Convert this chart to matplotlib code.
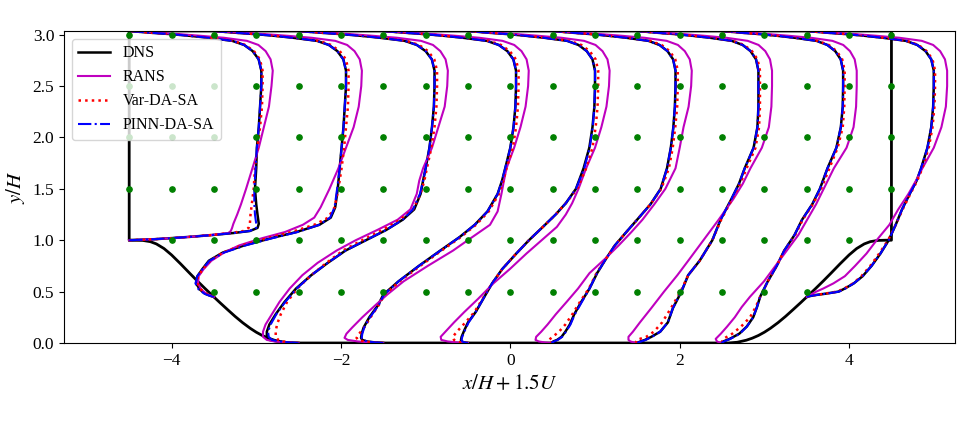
import numpy as np
import matplotlib
matplotlib.use('Agg')
import matplotlib.pyplot as plt

plt.rcParams['font.family'] = ['Liberation Serif', 'DejaVu Serif']
plt.rcParams['mathtext.fontset'] = 'stix'

# Geometria de la colina (distancia desde la cresta, altura), en unidades de H
hill_s = [0.0, 0.071, 0.161, 0.25, 0.321, 0.411, 0.5, 0.607, 0.714, 0.804, 0.893, 1.0,
          1.071, 1.161, 1.25, 1.339, 1.429, 1.5, 1.571, 1.643, 1.714, 1.821, 1.929]
hill_h = [1.0, 1.0, 0.998, 0.986, 0.964, 0.919, 0.857, 0.770, 0.679, 0.604, 0.532, 0.448,
          0.393, 0.325, 0.259, 0.198, 0.143, 0.105, 0.073, 0.047, 0.027, 0.007, 0.0]
H_top = 3.036
x_half = 4.5

# Estaciones x/H donde se toman los perfiles
stations = [0, 1, 2, 3, 4, 5, 6, 7, 8]

# Puntos de observacion
obs_x = [-4.5, -4.0, -3.5, -3.0, -2.5, -2.0, -1.5, -1.0, -0.5, 0.0,
         0.5, 1.0, 1.5, 2.0, 2.5, 3.0, 3.5, 4.0, 4.5]
obs_y = [0.5, 1.0, 1.5, 2.0, 2.5, 3.0]

# alturas comunes de la parte alta de todos los perfiles
y_top = [1.7, 1.9, 2.1, 2.3, 2.5, 2.65, 2.76, 2.84, 2.9, 2.94, 2.97, 2.99, 3.005, 3.02, 3.036]

# ---- perfiles de velocidad U (parte baja de y propia + y_top) ----
# x/H = 0
y_0 = [1.0, 1.005, 1.01, 1.02, 1.035, 1.05, 1.07, 1.09, 1.12, 1.16, 1.25, 1.35, 1.5]
dns_0 = [0, 0.1, 0.2, 0.33, 0.5, 0.65, 0.82, 0.95, 1.01, 1.02, 1.01, 1.0, 0.99,
         1.0, 1.005, 1.02, 1.03, 1.04, 1.04, 1.019, 0.972, 0.905, 0.811, 0.624, 0.468, 0.333, 0.156, 0]
rans_0 = [0, 0.1, 0.2, 0.33, 0.5, 0.64, 0.78, 0.8, 0.81, 0.82, 0.85, 0.88, 0.92,
          0.97, 1.02, 1.06, 1.1, 1.12, 1.13, 1.113, 1.074, 1.017, 0.927, 0.746, 0.554, 0.396, 0.186, 0]
var_0 = [0, 0.1, 0.2, 0.33, 0.5, 0.64, 0.8, 0.9, 0.94, 0.95, 0.955, 0.965, 0.98,
         0.99, 1.01, 1.03, 1.045, 1.05, 1.05, 1.029, 0.982, 0.914, 0.819, 0.63, 0.473, 0.336, 0.158, 0]
pinn_0 = [0, 0.1, 0.2, 0.33, 0.5, 0.65, 0.82, 0.95, 1.0, 1.0, 0.99, 0.985, 0.985,
          0.995, 1.005, 1.02, 1.03, 1.04, 1.04, 1.019, 0.972, 0.905, 0.811, 0.624, 0.468, 0.333, 0.156, 0]

# x/H = 1
y_1 = [0.448, 0.46, 0.48, 0.52, 0.58, 0.65, 0.72, 0.8, 0.88, 0.95, 1.02, 1.08, 1.15, 1.22, 1.32, 1.5]
dns_1 = [0, -0.03, -0.07, -0.11, -0.14, -0.13, -0.09, -0.04, 0.07, 0.24, 0.45, 0.65, 0.83, 0.92, 0.955, 0.975,
         0.99, 1.005, 1.02, 1.03, 1.04, 1.04, 1.019, 0.972, 0.905, 0.811, 0.624, 0.468, 0.333, 0.156, 0]
rans_1 = [0, -0.02, -0.06, -0.1, -0.125, -0.12, -0.08, -0.02, 0.08, 0.2, 0.38, 0.56, 0.7, 0.79, 0.84, 0.91,
          0.98, 1.04, 1.1, 1.14, 1.16, 1.165, 1.148, 1.107, 1.049, 0.955, 0.769, 0.571, 0.408, 0.192, 0]
var_1 = [0, -0.02, -0.06, -0.1, -0.13, -0.125, -0.085, -0.03, 0.07, 0.22, 0.42, 0.61, 0.79, 0.9, 0.95, 0.98,
         1.005, 1.025, 1.04, 1.055, 1.06, 1.06, 1.039, 0.991, 0.922, 0.827, 0.636, 0.477, 0.339, 0.159, 0]
pinn_1 = [0, -0.035, -0.075, -0.12, -0.145, -0.13, -0.09, -0.035, 0.08, 0.25, 0.46, 0.66, 0.83, 0.915, 0.95, 0.97,
          0.99, 1.005, 1.02, 1.03, 1.04, 1.04, 1.019, 0.972, 0.905, 0.811, 0.624, 0.468, 0.333, 0.156, 0]

# x/H = 2
y_2 = [0.0, 0.005, 0.015, 0.03, 0.06, 0.11, 0.18, 0.28, 0.4, 0.53, 0.66, 0.78, 0.9, 1.0, 1.1, 1.2,
       1.3, 1.45, 1.58]
dns_2 = [0, -0.08, -0.17, -0.23, -0.25, -0.25, -0.23, -0.18, -0.11, -0.02, 0.1, 0.23, 0.37, 0.53, 0.69, 0.82,
         0.91, 0.96, 0.98,
         1.0, 1.03, 1.05, 1.065, 1.07, 1.07, 1.049, 1.0, 0.931, 0.835, 0.642, 0.482, 0.342, 0.161, 0]
rans_2 = [0, -0.1, -0.19, -0.25, -0.28, -0.28, -0.26, -0.21, -0.15, -0.07, 0.03, 0.15, 0.3, 0.45, 0.62, 0.78,
          0.88, 0.93, 0.95,
          0.98, 1.05, 1.1, 1.15, 1.17, 1.175, 1.157, 1.116, 1.058, 0.964, 0.776, 0.576, 0.411, 0.194, 0]
var_2 = [0, -0.06, -0.12, -0.16, -0.18, -0.18, -0.17, -0.14, -0.09, -0.01, 0.1, 0.22, 0.35, 0.5, 0.66, 0.8,
         0.9, 0.96, 0.99,
         1.01, 1.045, 1.07, 1.085, 1.09, 1.09, 1.068, 1.019, 0.948, 0.85, 0.654, 0.491, 0.349, 0.164, 0]
pinn_2 = [0, -0.07, -0.15, -0.21, -0.235, -0.24, -0.22, -0.175, -0.105, -0.015, 0.1, 0.23, 0.37, 0.53, 0.69,
          0.82, 0.9, 0.955, 0.98,
          1.0, 1.03, 1.05, 1.065, 1.07, 1.07, 1.049, 1.0, 0.931, 0.835, 0.642, 0.482, 0.342, 0.161, 0]

# x/H = 3
y_3 = [0.0, 0.005, 0.015, 0.03, 0.05, 0.09, 0.15, 0.25, 0.37, 0.47, 0.6, 0.75, 0.9, 1.03, 1.15, 1.28,
       1.45, 1.58]
dns_3 = [0, -0.06, -0.13, -0.165, -0.175, -0.17, -0.155, -0.11, -0.04, 0.0, 0.12, 0.28, 0.45, 0.6, 0.72, 0.82,
         0.9, 0.935,
         0.96, 1.0, 1.025, 1.04, 1.045, 1.045, 1.024, 0.977, 0.909, 0.815, 0.627, 0.47, 0.334, 0.157, 0]
rans_3 = [0, -0.1, -0.2, -0.28, -0.305, -0.29, -0.245, -0.165, -0.06, 0.03, 0.16, 0.35, 0.55, 0.7, 0.84, 0.9,
          0.93, 0.95,
          0.97, 1.03, 1.08, 1.12, 1.14, 1.145, 1.128, 1.088, 1.031, 0.939, 0.756, 0.561, 0.401, 0.189, 0]
var_3 = [0, -0.08, -0.15, -0.2, -0.21, -0.19, -0.15, -0.1, -0.035, 0.01, 0.13, 0.29, 0.46, 0.61, 0.73, 0.83,
         0.91, 0.945,
         0.97, 1.02, 1.045, 1.06, 1.065, 1.065, 1.044, 0.996, 0.927, 0.831, 0.639, 0.479, 0.341, 0.16, 0]
pinn_3 = [0, -0.06, -0.125, -0.16, -0.17, -0.165, -0.15, -0.105, -0.035, 0.005, 0.12, 0.28, 0.45, 0.6, 0.72,
          0.82, 0.9, 0.935,
          0.96, 1.0, 1.025, 1.04, 1.045, 1.045, 1.024, 0.977, 0.909, 0.815, 0.627, 0.47, 0.334, 0.157, 0]

# x/H = 4
y_4 = [0.0, 0.005, 0.015, 0.03, 0.06, 0.12, 0.2, 0.3, 0.43, 0.58, 0.72, 0.87, 1.0, 1.13, 1.25, 1.36, 1.5]
dns_4 = [0, -0.03, -0.05, -0.055, -0.05, -0.03, 0.0, 0.06, 0.12, 0.19, 0.27, 0.38, 0.48, 0.59, 0.69, 0.77, 0.85,
         0.91, 0.955, 0.98, 0.995, 1.0, 1.0, 0.98, 0.935, 0.87, 0.78, 0.6, 0.45, 0.32, 0.15, 0]
rans_4 = [0, -0.08, -0.16, -0.21, -0.215, -0.17, -0.11, -0.03, 0.08, 0.2, 0.33, 0.46, 0.58, 0.7, 0.77, 0.82,
          0.87,
          0.93, 1.0, 1.05, 1.09, 1.11, 1.115, 1.098, 1.059, 1.004, 0.914, 0.736, 0.546, 0.39, 0.184, 0]
var_4 = [0, -0.05, -0.09, -0.11, -0.12, -0.08, -0.02, 0.05, 0.115, 0.19, 0.27, 0.38, 0.48, 0.59, 0.69, 0.77,
         0.86,
         0.93, 0.98, 1.005, 1.02, 1.025, 1.025, 1.005, 0.958, 0.892, 0.8, 0.615, 0.461, 0.328, 0.154, 0]
pinn_4 = [0, -0.025, -0.045, -0.05, -0.045, -0.025, 0.005, 0.06, 0.12, 0.19, 0.27, 0.38, 0.48, 0.59, 0.69,
          0.77, 0.85,
          0.915, 0.958, 0.982, 0.995, 1.0, 1.0, 0.98, 0.935, 0.87, 0.78, 0.6, 0.45, 0.32, 0.15, 0]

# x/H = 5
y_5 = [0.0, 0.005, 0.015, 0.03, 0.06, 0.11, 0.18, 0.28, 0.4, 0.53, 0.68, 0.82, 0.95, 1.08, 1.2, 1.35, 1.5]
dns_5 = [0, -0.005, 0.005, 0.035, 0.07, 0.1, 0.135, 0.17, 0.225, 0.29, 0.35, 0.42, 0.49, 0.58, 0.665, 0.77,
         0.85,
         0.9, 0.93, 0.95, 0.962, 0.967, 0.967, 0.948, 0.904, 0.841, 0.754, 0.58, 0.435, 0.309, 0.145, 0]
rans_5 = [0, -0.06, -0.11, -0.135, -0.13, -0.09, -0.04, 0.025, 0.11, 0.2, 0.29, 0.413, 0.52, 0.62, 0.707,
          0.8, 0.887,
          0.967, 1.0, 1.03, 1.07, 1.09, 1.095, 1.079, 1.04, 0.986, 0.898, 0.723, 0.537, 0.383, 0.181, 0]
var_5 = [0, -0.02, -0.03, -0.03, 0.0, 0.05, 0.1, 0.155, 0.215, 0.285, 0.345, 0.42, 0.49, 0.58, 0.665, 0.77,
         0.855,
         0.915, 0.945, 0.965, 0.98, 0.985, 0.985, 0.965, 0.921, 0.857, 0.768, 0.591, 0.443, 0.315, 0.148, 0]
pinn_5 = [0, -0.005, 0.01, 0.04, 0.075, 0.105, 0.14, 0.175, 0.23, 0.29, 0.35, 0.42, 0.49, 0.58, 0.665, 0.77,
          0.85,
          0.9, 0.93, 0.95, 0.962, 0.967, 0.967, 0.948, 0.904, 0.841, 0.754, 0.58, 0.435, 0.309, 0.145, 0]

# x/H = 6
y_6 = [0.0, 0.005, 0.015, 0.03, 0.06, 0.11, 0.2, 0.34, 0.5, 0.66, 0.8, 1.0, 1.2, 1.4, 1.55]
dns_6 = [0, 0.005, 0.025, 0.06, 0.11, 0.18, 0.24, 0.28, 0.347, 0.4, 0.49, 0.59, 0.655, 0.74, 0.8,
         0.845, 0.915, 0.945, 0.953, 0.953, 0.953, 0.934, 0.891, 0.829, 0.743, 0.572, 0.429, 0.305, 0.143, 0]
rans_6 = [0, -0.025, -0.055, -0.07, -0.07, -0.035, 0.02, 0.11, 0.21, 0.315, 0.4, 0.52, 0.64, 0.755, 0.83,
          0.89, 0.98, 1.035, 1.055, 1.06, 1.06, 1.044, 1.007, 0.954, 0.869, 0.7, 0.519, 0.371, 0.175, 0]
var_6 = [0, -0.005, -0.01, -0.005, 0.07, 0.13, 0.195, 0.265, 0.34, 0.4, 0.49, 0.59, 0.66, 0.745, 0.81,
         0.86, 0.93, 0.958, 0.965, 0.965, 0.965, 0.946, 0.902, 0.84, 0.753, 0.579, 0.434, 0.309, 0.145, 0]
pinn_6 = [0, 0.005, 0.03, 0.065, 0.115, 0.18, 0.24, 0.28, 0.345, 0.4, 0.49, 0.59, 0.655, 0.74, 0.8,
          0.845, 0.915, 0.945, 0.953, 0.953, 0.953, 0.934, 0.891, 0.829, 0.743, 0.572, 0.429, 0.305, 0.143, 0]

# x/H = 7
y_7 = [0.0, 0.005, 0.015, 0.04, 0.09, 0.16, 0.25, 0.35, 0.45, 0.6, 0.75, 0.9, 1.05, 1.2, 1.35, 1.5]
dns_7 = [0, 0.0, 0.01, 0.06, 0.135, 0.195, 0.245, 0.275, 0.3, 0.36, 0.43, 0.49, 0.57, 0.63, 0.71, 0.77,
         0.83, 0.9, 0.935, 0.95, 0.953, 0.953, 0.934, 0.891, 0.829, 0.743, 0.572, 0.429, 0.305, 0.143, 0]
rans_7 = [0, -0.02, -0.04, -0.05, -0.01, 0.04, 0.1, 0.155, 0.22, 0.33, 0.42, 0.51, 0.6, 0.67, 0.74, 0.8,
          0.88, 0.98, 1.035, 1.055, 1.06, 1.06, 1.044, 1.007, 0.954, 0.869, 0.7, 0.519, 0.371, 0.175, 0]
var_7 = [0, 0.0, 0.0, 0.01, 0.08, 0.15, 0.22, 0.265, 0.3, 0.36, 0.43, 0.49, 0.575, 0.635, 0.715, 0.78,
         0.845, 0.91, 0.95, 0.962, 0.965, 0.965, 0.946, 0.902, 0.84, 0.753, 0.579, 0.434, 0.309, 0.145, 0]
pinn_7 = [0, 0.0, 0.015, 0.065, 0.14, 0.195, 0.245, 0.275, 0.3, 0.36, 0.43, 0.49, 0.57, 0.63, 0.71, 0.77,
          0.83, 0.9, 0.935, 0.95, 0.953, 0.953, 0.934, 0.891, 0.829, 0.743, 0.572, 0.429, 0.305, 0.143, 0]

# x/H = 8
y_8 = [0.448, 0.455, 0.465, 0.48, 0.5, 0.53, 0.58, 0.65, 0.75, 0.87, 1.0, 1.15, 1.3, 1.45, 1.58]
dns_8 = [0, 0.02, 0.06, 0.15, 0.25, 0.3, 0.37, 0.44, 0.51, 0.58, 0.645, 0.7, 0.75, 0.81, 0.865,
         0.9, 0.95, 0.98, 0.995, 1.0, 1.0, 0.98, 0.935, 0.87, 0.78, 0.6, 0.45, 0.32, 0.15, 0]
rans_8 = [0, 0.01, 0.025, 0.045, 0.075, 0.13, 0.21, 0.3, 0.38, 0.47, 0.55, 0.65, 0.72, 0.8, 0.86,
          0.91, 1.0, 1.06, 1.095, 1.105, 1.105, 1.088, 1.05, 0.995, 0.906, 0.729, 0.541, 0.387, 0.182, 0]
var_8 = [0, 0.02, 0.06, 0.14, 0.24, 0.295, 0.365, 0.43, 0.5, 0.57, 0.64, 0.7, 0.755, 0.815, 0.87,
         0.91, 0.96, 0.99, 1.005, 1.01, 1.01, 0.99, 0.944, 0.879, 0.788, 0.606, 0.455, 0.323, 0.152, 0]
pinn_8 = [0, 0.02, 0.065, 0.155, 0.255, 0.305, 0.37, 0.44, 0.51, 0.58, 0.645, 0.7, 0.75, 0.81, 0.865,
          0.9, 0.95, 0.98, 0.995, 1.0, 1.0, 0.98, 0.935, 0.87, 0.78, 0.6, 0.45, 0.32, 0.15, 0]

perfiles = [
    (y_0, dns_0, rans_0, var_0, pinn_0),
    (y_1, dns_1, rans_1, var_1, pinn_1),
    (y_2, dns_2, rans_2, var_2, pinn_2),
    (y_3, dns_3, rans_3, var_3, pinn_3),
    (y_4, dns_4, rans_4, var_4, pinn_4),
    (y_5, dns_5, rans_5, var_5, pinn_5),
    (y_6, dns_6, rans_6, var_6, pinn_6),
    (y_7, dns_7, rans_7, var_7, pinn_7),
    (y_8, dns_8, rans_8, var_8, pinn_8),
]

fig = plt.figure(figsize=(9.65, 4.42), dpi=100)
ax = fig.add_axes([0.0663, 0.224, 0.9233, 0.7059])

# contorno del dominio
s = np.array(hill_s)
h = np.array(hill_h)
geo_x = np.concatenate([[-x_half], s - x_half, x_half - s[::-1], [x_half, -x_half]])
geo_y = np.concatenate([[H_top], h, h[::-1], [H_top, H_top]])
ax.plot(geo_x, geo_y, 'k-', lw=2)

escala = 1.5
for i, (st, perfil) in enumerate(zip(stations, perfiles)):
    y_bajo, u_dns, u_rans, u_var, u_pinn = perfil
    y = np.array(y_bajo + y_top)
    x0 = st - x_half
    ax.plot(x0 + escala * np.array(u_dns), y, 'k-', lw=1.8,
            label='DNS' if i == 0 else None)
    ax.plot(x0 + escala * np.array(u_rans), y, 'm-', lw=1.5,
            label='RANS' if i == 0 else None)
    ax.plot(x0 + escala * np.array(u_var), y, 'r:', lw=1.8,
            label='Var-DA-SA' if i == 0 else None)
    ax.plot(x0 + escala * np.array(u_pinn), y, 'b-.', lw=1.5,
            label='PINN-DA-SA' if i == 0 else None)

# puntos de observacion sobre la pared
ox, oy = np.meshgrid(obs_x, obs_y)
ox = ox.ravel()
oy = oy.ravel()
pared = np.interp(x_half - np.abs(ox), hill_s, hill_h, right=0.0)
dentro = oy > pared + 1e-6
ax.plot(ox[dentro], oy[dentro], 'o', color='green', ms=3.8, zorder=3)

ax.set_xlim(-5.27, 5.25)
ax.set_ylim(0, H_top)
ax.set_xticks([-4, -2, 0, 2, 4])
ax.set_yticks([0.0, 0.5, 1.0, 1.5, 2.0, 2.5, 3.0])
ax.tick_params(labelsize=12.5)
ax.set_xlabel('$x/H + 1.5U$', fontsize=15)
ax.set_ylabel('$y/H$', fontsize=15)
ax.legend(loc='upper left', fontsize=11.5)

fig.savefig('out.png', dpi=100)
